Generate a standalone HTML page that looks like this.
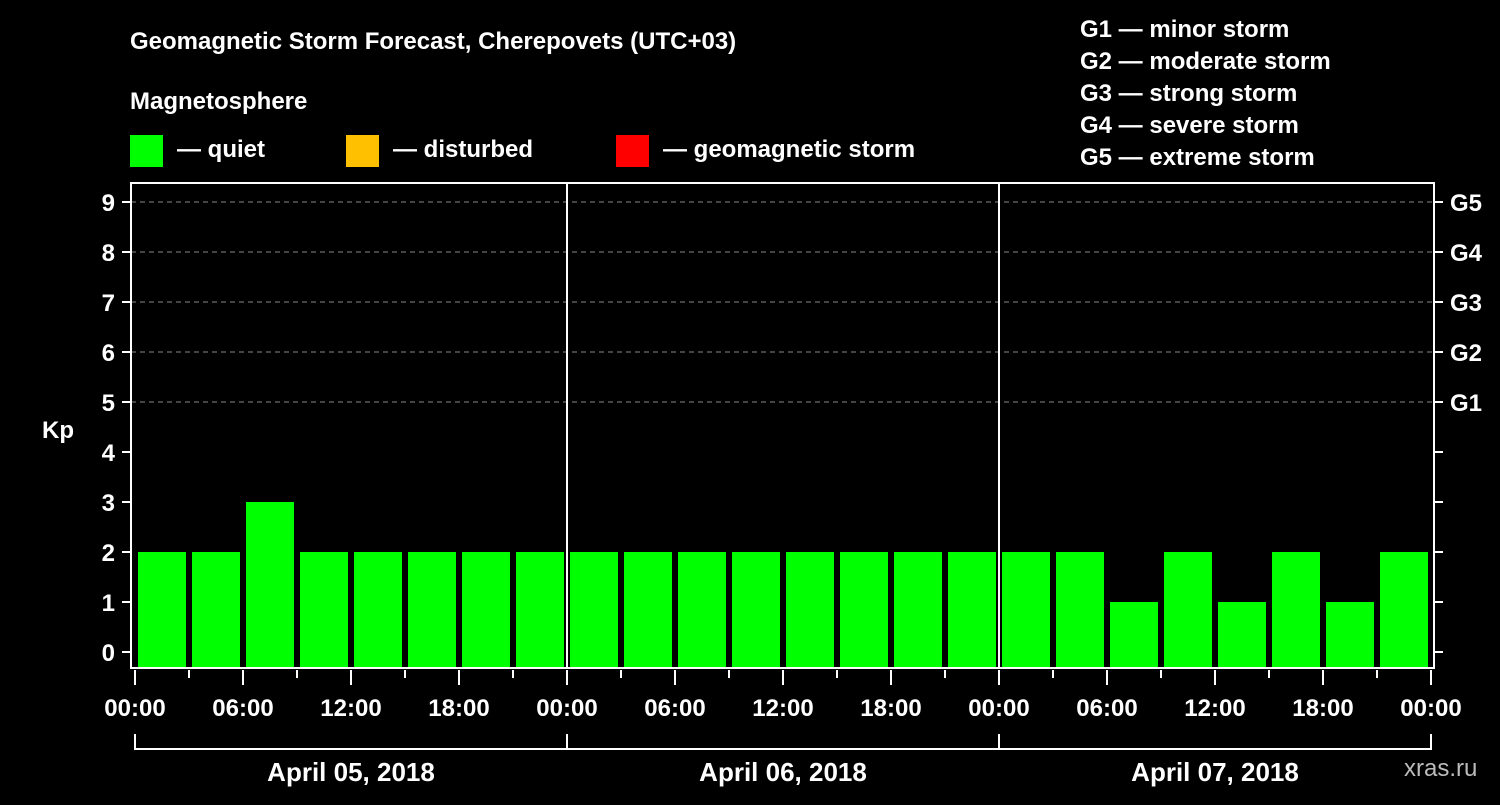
<!DOCTYPE html>
<html><head><meta charset="utf-8"><style>
body{margin:0;background:#000;width:1500px;height:800px;overflow:hidden}
svg text{font-family:"Liberation Sans",Arial,sans-serif;font-weight:bold;fill:#fff}
</style></head><body>
<svg id="c" width="1500" height="800" xmlns="http://www.w3.org/2000/svg">
<rect width="1500" height="800" fill="#000"/>
<text x="130" y="49" font-size="24">Geomagnetic Storm Forecast, Cherepovets (UTC+03)</text>
<text x="130" y="109" font-size="24">Magnetosphere</text>
<g><rect x="130" y="135" width="33" height="32" fill="#00ff00"/><text x="177" y="157" font-size="24">— quiet</text></g>
<g><rect x="346" y="135" width="33" height="32" fill="#ffc000"/><text x="393" y="157" font-size="24">— disturbed</text></g>
<g><rect x="616" y="135" width="33" height="32" fill="#ff0000"/><text x="663" y="157" font-size="24">— geomagnetic storm</text></g>
<g font-size="24">
<text x="1080" y="37">G1 — minor storm</text>
<text x="1080" y="69">G2 — moderate storm</text>
<text x="1080" y="101">G3 — strong storm</text>
<text x="1080" y="133">G4 — severe storm</text>
<text x="1080" y="165">G5 — extreme storm</text>
</g>
<text x="42" y="438" font-size="24">Kp</text>
<text x="1404" y="776" font-size="24" fill="#ccc" style="fill:#bbb;font-weight:normal">xras.ru</text>
<g id="plot"></g>
</svg>
<script>
const kpValues=[2,2,3,2,2,2,2,2, 2,2,2,2,2,2,2,2, 2,2,1,2,1,2,1,2];
const yTicks=[0,1,2,3,4,5,6,7,8,9];
const gLabels=["G1","G2","G3","G4","G5"];
const gLevels=[5,6,7,8,9];
const timeLabels=["00:00","06:00","12:00","18:00","00:00","06:00","12:00","18:00","00:00","06:00","12:00","18:00","00:00"];
const dayLabels=["April 05, 2018","April 06, 2018","April 07, 2018"];
const colorFor=v=>v>=5?'#ff0000':(v>=4?'#ffc000':'#00ff00');
const NS='http://www.w3.org/2000/svg';
const g=document.getElementById('plot');
const y=v=>652-50*v;
const x=h=>135+18*h; // hours
function el(t,a){const e=document.createElementNS(NS,t);for(const k in a)e.setAttribute(k,a[k]);g.appendChild(e);return e;}
// grid
gLevels.forEach(v=>{const l=el('line',{x1:131,x2:1434,y1:y(v),y2:y(v),stroke:'#888','stroke-dasharray':'5,4','stroke-width':1});

});
// bars
kpValues.forEach((v,i)=>{const r=el('rect',{x:x(i*3)+3,y:y(v),width:48,height:668-y(v),fill:colorFor(v)});

});
// frame
const f=el('rect',{x:131,y:183,width:1303,height:485,fill:'none',stroke:'#fff','stroke-width':2});


[1,2].forEach(d=>{const l=el('line',{x1:x(24*d),x2:x(24*d),y1:183,y2:668,stroke:'#fff','stroke-width':2});

});
// y ticks
yTicks.forEach(v=>{el('line',{x1:122,x2:131,y1:y(v),y2:y(v),stroke:'#fff','stroke-width':2});
el('line',{x1:1434,x2:1443,y1:y(v),y2:y(v),stroke:'#fff','stroke-width':2});
const t=el('text',{x:115,y:y(v)+9,'font-size':24,'text-anchor':'end'});t.textContent=v;

});
gLabels.forEach((s,i)=>{const t=el('text',{x:1450,y:y(gLevels[i])+9,'font-size':24});t.textContent=s;

});
// x ticks
for(let h=0;h<=72;h+=3){const major=h%6===0;el('line',{x1:x(h),x2:x(h),y1:670,y2:major?685:678,stroke:'#fff','stroke-width':2});}
timeLabels.forEach((s,i)=>{const t=el('text',{x:x(i*6),y:716,'font-size':24,'text-anchor':'middle'});t.textContent=s;

});
// day brackets
el('line',{x1:x(0),x2:x(72),y1:749,y2:749,stroke:'#fff','stroke-width':2});
for(let d=0;d<=3;d++)el('line',{x1:x(24*d),x2:x(24*d),y1:734,y2:750,stroke:'#fff','stroke-width':2});
dayLabels.forEach((s,i)=>{const t=el('text',{x:x(24*i+12),y:781,'font-size':26,'text-anchor':'middle'});t.textContent=s;

});
</script>
</body></html>
